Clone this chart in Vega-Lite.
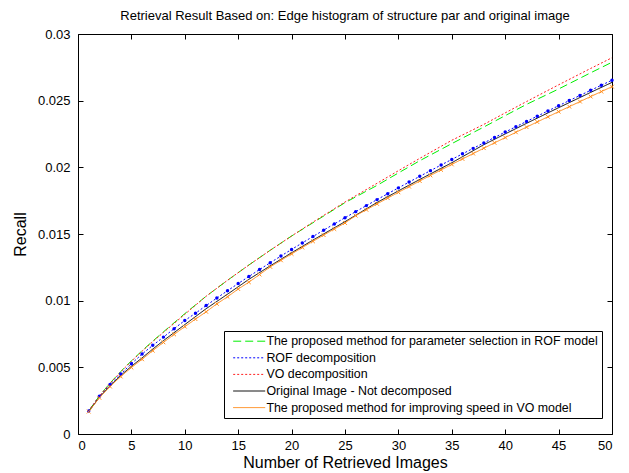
{
  "$schema": "https://vega.github.io/schema/vega-lite/v6.json",
  "width": 534,
  "height": 400,
  "autosize": {"type": "none"},
  "padding": {"left": 78, "top": 34, "right": 17, "bottom": 39},
  "background": "white",
  "title": {"text": "Retrieval Result Based on: Edge histogram of structure par and original image", "font": "Liberation Sans", "fontSize": 13, "fontWeight": "normal", "color": "black", "anchor": "middle", "offset": 5},
  "config": {
    "view": {"stroke": null},
    "axis": {"domainColor": "black", "tickColor": "black", "labelColor": "black", "titleColor": "black", "labelFont": "Liberation Sans", "titleFont": "Liberation Sans", "labelFontSize": 13, "titleFontSize": 16, "titleFontWeight": "normal", "grid": false, "tickSize": -5, "domainWidth": 1, "tickWidth": 1},
    "legend": {"labelFont": "Liberation Sans", "labelFontSize": 12.4, "labelColor": "black", "labelLimit": 500, "strokeColor": "black", "fillColor": "white", "padding": 4, "rowPadding": 3.6, "symbolType": "M0,0L8,0", "symbolSize": 64, "symbolStrokeWidth": 1, "symbolOffset": -1, "labelOffset": 27}
  },
  "data": {"values": [
    {"s":"G","x":1,"y":0.00172},{"s":"G","x":2,"y":0.002862},{"s":"G","x":3,"y":0.003818},{"s":"G","x":4,"y":0.004683},{"s":"G","x":5,"y":0.005487},{"s":"G","x":6,"y":0.006245},{"s":"G","x":7,"y":0.006967},{"s":"G","x":8,"y":0.00766},{"s":"G","x":10,"y":0.009026},{"s":"G","x":12,"y":0.010333},{"s":"G","x":14,"y":0.011528},{"s":"G","x":16,"y":0.012674},{"s":"G","x":18,"y":0.01378},{"s":"G","x":20,"y":0.01485},{"s":"G","x":22,"y":0.015844},{"s":"G","x":25,"y":0.01735},{"s":"G","x":28,"y":0.018645},{"s":"G","x":30,"y":0.019579},{"s":"G","x":32,"y":0.020496},{"s":"G","x":35,"y":0.021779},{"s":"G","x":38,"y":0.023024},{"s":"G","x":40,"y":0.023878},{"s":"G","x":42,"y":0.024722},{"s":"G","x":45,"y":0.025875},{"s":"G","x":48,"y":0.027089},{"s":"G","x":50,"y":0.027883},
    {"s":"B","x":1,"y":0.00172},{"s":"B","x":2,"y":0.00283},{"s":"B","x":3,"y":0.003709},{"s":"B","x":4,"y":0.004496},{"s":"B","x":5,"y":0.005267},{"s":"B","x":6,"y":0.005995},{"s":"B","x":7,"y":0.006649},{"s":"B","x":8,"y":0.007266},{"s":"B","x":9,"y":0.0079},{"s":"B","x":10,"y":0.008513},{"s":"B","x":11,"y":0.009055},{"s":"B","x":12,"y":0.009632},{"s":"B","x":13,"y":0.010195},{"s":"B","x":14,"y":0.010746},{"s":"B","x":15,"y":0.011285},{"s":"B","x":16,"y":0.011814},{"s":"B","x":17,"y":0.012335},{"s":"B","x":18,"y":0.012846},{"s":"B","x":19,"y":0.013348},{"s":"B","x":20,"y":0.013844},{"s":"B","x":21,"y":0.014331},{"s":"B","x":22,"y":0.014812},{"s":"B","x":23,"y":0.015287},{"s":"B","x":24,"y":0.015756},{"s":"B","x":25,"y":0.01622},{"s":"B","x":26,"y":0.016678},{"s":"B","x":27,"y":0.017129},{"s":"B","x":28,"y":0.017579},{"s":"B","x":29,"y":0.018021},{"s":"B","x":30,"y":0.01846},{"s":"B","x":31,"y":0.018894},{"s":"B","x":32,"y":0.019325},{"s":"B","x":33,"y":0.019752},{"s":"B","x":34,"y":0.020175},{"s":"B","x":35,"y":0.020594},{"s":"B","x":36,"y":0.021011},{"s":"B","x":37,"y":0.021422},{"s":"B","x":38,"y":0.021833},{"s":"B","x":39,"y":0.02224},{"s":"B","x":40,"y":0.022643},{"s":"B","x":41,"y":0.023046},{"s":"B","x":42,"y":0.023443},{"s":"B","x":43,"y":0.023838},{"s":"B","x":44,"y":0.02423},{"s":"B","x":45,"y":0.024621},{"s":"B","x":46,"y":0.025006},{"s":"B","x":47,"y":0.025392},{"s":"B","x":48,"y":0.025776},{"s":"B","x":49,"y":0.026156},{"s":"B","x":50,"y":0.026532},
    {"s":"R","x":1,"y":0.00172},{"s":"R","x":2,"y":0.002846},{"s":"R","x":3,"y":0.003796},{"s":"R","x":4,"y":0.004656},{"s":"R","x":5,"y":0.005455},{"s":"R","x":6,"y":0.006209},{"s":"R","x":7,"y":0.006927},{"s":"R","x":8,"y":0.007616},{"s":"R","x":10,"y":0.008975},{"s":"R","x":12,"y":0.010333},{"s":"R","x":14,"y":0.011528},{"s":"R","x":16,"y":0.012674},{"s":"R","x":18,"y":0.01378},{"s":"R","x":20,"y":0.01485},{"s":"R","x":22,"y":0.015889},{"s":"R","x":25,"y":0.017399},{"s":"R","x":28,"y":0.018804},{"s":"R","x":30,"y":0.019747},{"s":"R","x":32,"y":0.020672},{"s":"R","x":35,"y":0.022029},{"s":"R","x":38,"y":0.023222},{"s":"R","x":40,"y":0.024084},{"s":"R","x":42,"y":0.024935},{"s":"R","x":45,"y":0.026188},{"s":"R","x":48,"y":0.027417},{"s":"R","x":50,"y":0.02822},
    {"s":"K","x":1,"y":0.00168},{"s":"K","x":2,"y":0.002748},{"s":"K","x":3,"y":0.003621},{"s":"K","x":4,"y":0.004388},{"s":"K","x":5,"y":0.005079},{"s":"K","x":6,"y":0.00571},{"s":"K","x":7,"y":0.00637},{"s":"K","x":8,"y":0.007003},{"s":"K","x":10,"y":0.008206},{"s":"K","x":12,"y":0.009399},{"s":"K","x":14,"y":0.010486},{"s":"K","x":16,"y":0.0116},{"s":"K","x":18,"y":0.012612},{"s":"K","x":20,"y":0.013592},{"s":"K","x":22,"y":0.014543},{"s":"K","x":25,"y":0.015925},{"s":"K","x":28,"y":0.017366},{"s":"K","x":30,"y":0.018236},{"s":"K","x":32,"y":0.019091},{"s":"K","x":35,"y":0.020344},{"s":"K","x":38,"y":0.0217},{"s":"K","x":40,"y":0.022506},{"s":"K","x":42,"y":0.023301},{"s":"K","x":45,"y":0.024472},{"s":"K","x":48,"y":0.02562},{"s":"K","x":50,"y":0.026371},
    {"s":"O","x":1,"y":0.00168},{"s":"O","x":2,"y":0.002715},{"s":"O","x":3,"y":0.003556},{"s":"O","x":4,"y":0.004308},{"s":"O","x":5,"y":0.004985},{"s":"O","x":6,"y":0.005603},{"s":"O","x":7,"y":0.006251},{"s":"O","x":8,"y":0.006872},{"s":"O","x":9,"y":0.007471},{"s":"O","x":10,"y":0.008052},{"s":"O","x":11,"y":0.008616},{"s":"O","x":12,"y":0.009165},{"s":"O","x":13,"y":0.009762},{"s":"O","x":14,"y":0.01029},{"s":"O","x":15,"y":0.010874},{"s":"O","x":16,"y":0.011385},{"s":"O","x":17,"y":0.011961},{"s":"O","x":18,"y":0.012534},{"s":"O","x":19,"y":0.013024},{"s":"O","x":20,"y":0.013508},{"s":"O","x":21,"y":0.013984},{"s":"O","x":22,"y":0.014453},{"s":"O","x":23,"y":0.014917},{"s":"O","x":24,"y":0.015374},{"s":"O","x":25,"y":0.015827},{"s":"O","x":26,"y":0.016375},{"s":"O","x":27,"y":0.016817},{"s":"O","x":28,"y":0.017259},{"s":"O","x":29,"y":0.017694},{"s":"O","x":30,"y":0.018125},{"s":"O","x":31,"y":0.018551},{"s":"O","x":32,"y":0.018973},{"s":"O","x":33,"y":0.019393},{"s":"O","x":34,"y":0.019808},{"s":"O","x":35,"y":0.020219},{"s":"O","x":36,"y":0.020629},{"s":"O","x":37,"y":0.021032},{"s":"O","x":38,"y":0.021436},{"s":"O","x":39,"y":0.021836},{"s":"O","x":40,"y":0.022231},{"s":"O","x":41,"y":0.022627},{"s":"O","x":42,"y":0.023017},{"s":"O","x":43,"y":0.023404},{"s":"O","x":44,"y":0.02379},{"s":"O","x":45,"y":0.024174},{"s":"O","x":46,"y":0.024551},{"s":"O","x":47,"y":0.02493},{"s":"O","x":48,"y":0.025308},{"s":"O","x":49,"y":0.02568},{"s":"O","x":50,"y":0.02605}
  ]},
  "layer": [
    {
      "mark": {"type": "line", "strokeWidth": 1},
      "encoding": {
        "x": {"field": "x", "type": "quantitative", "scale": {"domain": [0, 50], "nice": false, "zero": false}, "axis": {"orient": "bottom", "values": [0,5,10,15,20,25,30,35,40,45,50], "title": "Number of Retrieved Images", "labelPadding": 10, "titlePadding": 2}},
        "y": {"field": "y", "type": "quantitative", "scale": {"domain": [0, 0.03], "nice": false}, "axis": {"orient": "left", "values": [0,0.005,0.01,0.015,0.02,0.025,0.03], "format": "~g", "title": "Recall", "labelPadding": 13, "titlePadding": 9}},
        "color": {"field": "s", "type": "nominal", "scale": {"domain": ["G","B","R","K","O"], "range": ["#00ee00","#0000ff","#ff2020","#000000","#ff8c1a"]}, "legend": {"title": null, "orient": "none", "legendX": 146, "legendY": 297, "labelExpr": "{'G':'The proposed method for parameter selection in ROF model','B':'ROF decomposition','R':'VO decomposition','K':'Original Image - Not decomposed','O':'The proposed method for improving speed in VO model'}[datum.label]"}},
        "strokeDash": {"field": "s", "type": "nominal", "scale": {"domain": ["G","B","R","K","O"], "range": [[8,4],[2,2],[2,2],[1,0],[1,0]]}, "legend": {"title": null, "orient": "none", "legendX": 146, "legendY": 297, "labelExpr": "{'G':'The proposed method for parameter selection in ROF model','B':'ROF decomposition','R':'VO decomposition','K':'Original Image - Not decomposed','O':'The proposed method for improving speed in VO model'}[datum.label]"}}
      }
    },
    {
      "transform": [{"filter": "datum.s === 'B'"}],
      "mark": {"type": "point", "filled": true, "color": "#0000ff", "size": 12, "opacity": 1},
      "encoding": {
        "x": {"field": "x", "type": "quantitative", "axis": null},
        "y": {"field": "y", "type": "quantitative", "axis": null}
      }
    },
    {
      "transform": [{"filter": "datum.s === 'O'"}],
      "mark": {"type": "point", "shape": "M-1,-1L1,1M-1,1L1,-1", "filled": false, "color": "#ff8c1a", "size": 14, "strokeWidth": 1, "opacity": 1},
      "encoding": {
        "x": {"field": "x", "type": "quantitative", "axis": {"orient": "top", "values": [0,5,10,15,20,25,30,35,40,45,50], "labels": false, "title": null}},
        "y": {"field": "y", "type": "quantitative", "axis": {"orient": "right", "values": [0,0.005,0.01,0.015,0.02,0.025,0.03], "labels": false, "title": null}}
      }
    }
  ],
  "resolve": {"axis": {"x": "independent", "y": "independent"}}
}
